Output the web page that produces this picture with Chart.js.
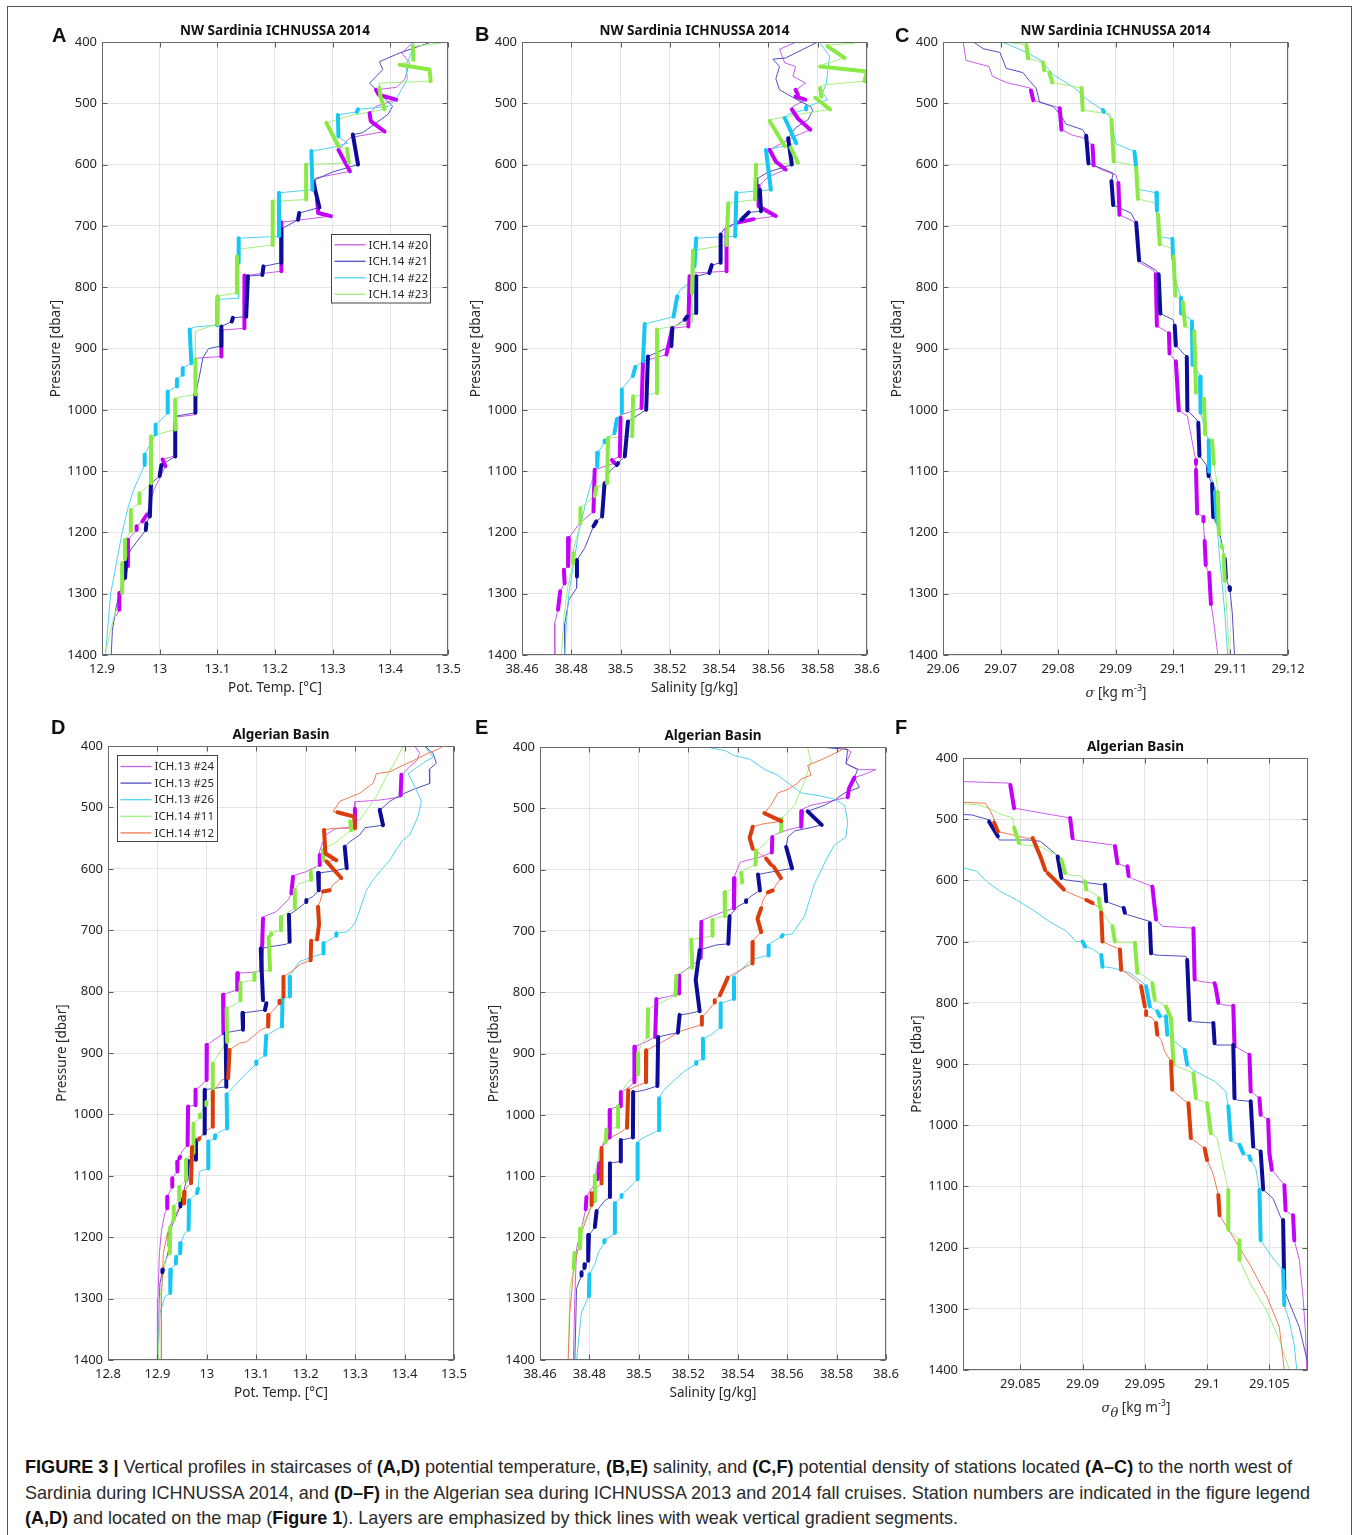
<!DOCTYPE html>
<html><head><meta charset="utf-8">
<script src="https://cdn.jsdelivr.net/npm/chart.js@4.4.1/dist/chart.umd.min.js"></script>
<style>
body{margin:0;width:1360px;height:1535px;background:#fff;position:relative;overflow:hidden;font-family:"Noto Sans",sans-serif;}
.frame{position:absolute;left:7px;top:6px;width:1345px;height:1560px;border:1.5px solid #555;box-sizing:border-box;}
.letter{position:absolute;font:bold 20px "Liberation Sans",Arial,sans-serif;line-height:20px;color:#111;}
.xl{position:absolute;font-size:13.5px;line-height:16px;color:#262626;white-space:nowrap;transform:translateX(-50%);}
.xl i{font-family:"DejaVu Serif",serif;font-style:italic;font-size:13px;}
.xl sup{font-size:9px;vertical-align:6px;line-height:0;}
.xl sub{font-size:9.5px;vertical-align:-5px;line-height:0;}
.cap{position:absolute;left:25px;font-family:"Liberation Sans",Arial,sans-serif;font-size:19px;line-height:19px;color:#2a2a2a;white-space:nowrap;transform-origin:0 0;}
.cap b{color:#111;}
</style></head><body>
<div class="frame"></div>
<script>
// ---------- tick labels ----------
const pressureTicks = [400,500,600,700,800,900,1000,1100,1200,1300,1400];
const tempTicksA = [12.9,13,13.1,13.2,13.3,13.4,13.5];
const tempTicksD = [12.8,12.9,13,13.1,13.2,13.3,13.4,13.5];
const salTicks = [38.46,38.48,38.5,38.52,38.54,38.56,38.58,38.6];
const sigTicksC = [29.06,29.07,29.08,29.09,29.1,29.11,29.12];
const sigTicksF = [29.085,29.09,29.095,29.1,29.105];

const namesA = ['ICH.14 #20','ICH.14 #21','ICH.14 #22','ICH.14 #23'];
const namesD = ['ICH.13 #24','ICH.13 #25','ICH.13 #26','ICH.14 #11','ICH.14 #12'];

// ---------- data: [value, pressure, layer flag(1 = thick segment ending here)] ----------
// Panel A: potential temperature, NW Sardinia
const tempA_20 = [[13.44,400],[13.42,418],[13.433,434],[13.425,461],[13.41,474],[13.375,478],[13.38,486,1],[13.41,494,1],[13.375,505],[13.364,516],[13.366,529,1],[13.39,546,1],[13.33,556],[13.31,576],[13.33,611,1],[13.27,622],[13.273,657],[13.275,679,1],[13.297,684,1],[13.211,694],[13.211,774,1],[13.147,781],[13.147,867,1],[13.107,870],[13.107,913,1],[13.062,916],[13.062,1008],[13.027,1012],[13.027,1075],[13.005,1081],[13.01,1092,1],[12.99,1130],[12.978,1171],[12.97,1182,1],[12.96,1190],[12.96,1196,1],[12.945,1212],[12.945,1255,1],[12.935,1290],[12.93,1299],[12.93,1326,1],[12.925,1336]];
const tempA_21 = [[13.471,400],[13.416,418],[13.381,432],[13.387,445],[13.364,467],[13.381,483],[13.404,505],[13.396,518],[13.352,548],[13.335,551],[13.344,600,1],[13.30,612],[13.271,624],[13.266,627],[13.277,670,1],[13.242,679],[13.24,690,1],[13.211,705],[13.211,760,1],[13.18,766],[13.178,780,1],[13.153,782],[13.15,848,1],[13.127,850],[13.125,856,1],[13.107,864],[13.107,896,1],[13.085,900],[13.075,915],[13.068,950],[13.062,975],[13.062,1005,1],[13.03,1010],[13.027,1021],[13.027,1076,1],[13.003,1090],[13.0,1108,1],[12.985,1120],[12.983,1174,1],[12.977,1185],[12.976,1196,1],[12.95,1228],[12.942,1244],[12.94,1274,1],[12.932,1293],[12.925,1320],[12.918,1360],[12.916,1400]];
const tempA_22 = [[13.442,400],[13.436,418],[13.427,440],[13.43,460],[13.419,478],[13.41,494],[13.396,505],[13.344,510],[13.342,514,1],[13.309,519],[13.31,554,1],[13.326,565],[13.30,572],[13.263,578],[13.265,641,1],[13.207,646],[13.207,717,1],[13.137,720],[13.137,760,1],[13.137,818],[13.1,820],[13.1,862,1],[13.06,865],[13.052,869],[13.055,924,1],[13.04,932],[13.04,943,1],[13.03,950],[13.03,962,1],[13.014,970],[13.014,1005,1],[13.006,1013],[12.993,1024],[12.993,1040,1],[12.974,1073],[12.974,1090,1],[12.955,1130],[12.945,1160],[12.935,1200],[12.925,1250],[12.915,1300],[12.906,1400]];
const tempA_23 = [[13.497,400],[13.47,404],[13.439,407],[13.44,429,1],[13.416,437],[13.468,445,1],[13.47,464,1],[13.381,467],[13.381,475],[13.383,489,1],[13.39,510,1],[13.33,520],[13.289,532],[13.31,570,1],[13.325,574],[13.328,597,1],[13.254,600],[13.254,657,1],[13.196,660],[13.196,731,1],[13.137,738],[13.134,750],[13.134,809,1],[13.101,815],[13.1,860,1],[13.062,872],[13.062,918],[13.062,975,1],[13.03,980],[13.027,983],[13.027,1032,1],[12.985,1043],[12.985,1120,1],[12.965,1136],[12.965,1152,1],[12.95,1163],[12.95,1198,1],[12.94,1212],[12.94,1244,1],[12.935,1250],[12.935,1299,1],[12.92,1340],[12.905,1400]];

// Panel B: salinity, NW Sardinia
const salB_20 = [[38.5713,400],[38.5645,412],[38.5666,434],[38.571,440],[38.57,456],[38.575,467],[38.572,476],[38.571,478],[38.572,486,1],[38.571,489],[38.575,494,1],[38.57,505],[38.5695,510],[38.572,525,1],[38.577,543,1],[38.57,555],[38.5605,576],[38.563,595,1],[38.567,608,1],[38.56,620],[38.556,635],[38.556,668,1],[38.563,684,1],[38.554,689],[38.547,695,1],[38.543,705],[38.543,774,1],[38.529,777],[38.528,782],[38.5275,864,1],[38.521,867],[38.5186,910,1],[38.5091,921],[38.5085,997,1],[38.5003,1008],[38.5,1013],[38.4997,1076,1],[38.4965,1082],[38.4976,1087,1],[38.4895,1098],[38.489,1166,1],[38.4834,1185],[38.479,1209],[38.4787,1255,1],[38.477,1261],[38.4773,1283,1],[38.4755,1296],[38.4746,1326,1],[38.4733,1348],[38.4733,1400]];
const salB_21 = [[38.58,400],[38.574,412],[38.567,426],[38.5618,428],[38.5645,440],[38.563,460],[38.5645,478],[38.572,495],[38.577,505],[38.578,512],[38.576,527],[38.571,540],[38.568,557],[38.5695,600,1],[38.56,612],[38.555,624],[38.5551,635,1],[38.5565,641],[38.557,676,1],[38.552,678],[38.549,690,1],[38.542,705],[38.5406,714],[38.5406,760,1],[38.537,764],[38.536,777,1],[38.5307,782],[38.5307,842,1],[38.527,848],[38.526,853,1],[38.521,867],[38.5206,896,1],[38.5111,913],[38.5104,1000,1],[38.503,1019],[38.5017,1076,1],[38.499,1087],[38.4985,1090,1],[38.4956,1100],[38.4935,1120],[38.4925,1174,1],[38.4902,1182],[38.489,1190,1],[38.4854,1226],[38.4823,1245],[38.4823,1272,1],[38.482,1291],[38.479,1310],[38.4773,1350],[38.4773,1400]];
const salB_22 = [[38.5806,400],[38.5848,423],[38.5835,467],[38.582,483],[38.584,494],[38.578,502],[38.5753,506],[38.5753,510,1],[38.568,518],[38.5666,524],[38.5713,565,1],[38.566,570],[38.559,576],[38.561,641,1],[38.547,646],[38.5465,717,1],[38.5307,720],[38.53,766,1],[38.529,790],[38.524,805],[38.523,815],[38.5215,848,1],[38.5138,856],[38.5098,860],[38.5091,921,1],[38.506,930],[38.505,945,1],[38.5017,960],[38.5005,967],[38.5005,1005,1],[38.4985,1015],[38.4975,1038,1],[38.4935,1050],[38.4935,1053,1],[38.4908,1070],[38.4905,1092,1],[38.4888,1110],[38.486,1150],[38.483,1200],[38.481,1250],[38.479,1300],[38.478,1350],[38.4773,1400]];
const salB_23 = [[38.595,402],[38.5835,405],[38.584,407],[38.5909,426,1],[38.5821,437],[38.581,440],[38.6,448,1],[38.599,464,1],[38.582,470],[38.581,475],[38.5815,489,1],[38.579,491],[38.585,510,1],[38.572,518],[38.5605,527],[38.5605,529],[38.5666,570,1],[38.569,572],[38.572,597,1],[38.555,600],[38.5545,657,1],[38.5437,663],[38.543,731,1],[38.5294,740],[38.529,809,1],[38.529,858],[38.518,866],[38.5148,869],[38.5148,973,1],[38.5051,978],[38.5047,1043,1],[38.4949,1046],[38.4945,1120,1],[38.4902,1126],[38.4895,1141,1],[38.4837,1160],[38.4837,1185,1],[38.481,1226],[38.4808,1234],[38.4808,1250,1],[38.4785,1290],[38.477,1340],[38.476,1400]];

// Panel C: density, NW Sardinia
const sigC_20 = [[29.0635,400],[29.064,430],[29.068,440],[29.0686,456],[29.071,466],[29.0751,475],[29.0753,479],[29.0757,495,1],[29.0768,498],[29.0797,506],[29.0803,508],[29.0806,543,1],[29.0825,552],[29.0843,556],[29.086,569],[29.0862,601,1],[29.0875,608],[29.0901,617],[29.0905,630],[29.0907,682,1],[29.093,692],[29.0938,700],[29.0942,760],[29.0965,772],[29.097,779],[29.0972,863,1],[29.0988,872],[29.0993,875],[29.0994,908,1],[29.1005,921],[29.101,1001,1],[29.1025,1010],[29.1038,1075],[29.104,1082],[29.104,1088,1],[29.104,1098],[29.1042,1169,1],[29.105,1173],[29.1053,1175],[29.1053,1182,1],[29.1054,1205],[29.1055,1214],[29.1057,1253,1],[29.106,1262],[29.1063,1266],[29.1066,1317,1],[29.107,1340],[29.1078,1400]];
const sigC_21 = [[29.0653,400],[29.067,411],[29.0699,417],[29.071,443],[29.0739,450],[29.075,463],[29.0762,475],[29.0768,498],[29.0791,505],[29.0803,517],[29.0814,534],[29.0843,543],[29.0849,553],[29.0853,598,1],[29.0875,606],[29.0896,614],[29.0893,627],[29.0896,666,1],[29.0927,679],[29.0936,695],[29.0941,756,1],[29.097,772],[29.0975,779],[29.0978,843,1],[29.1,853],[29.1003,863],[29.1005,895,1],[29.1024,914],[29.1025,1001,1],[29.104,1015],[29.1044,1021],[29.1046,1075,1],[29.1058,1090],[29.1061,1095],[29.1062,1108,1],[29.1068,1121],[29.107,1175,1],[29.108,1195],[29.109,1243],[29.1092,1275,1],[29.1098,1290],[29.1099,1294,1],[29.1103,1330],[29.1107,1400]];
const sigC_22 = [[29.0702,400],[29.0716,405],[29.0745,417],[29.0771,430],[29.0791,453],[29.0829,475],[29.0852,495],[29.0878,511],[29.088,514,1],[29.089,521],[29.0893,532],[29.0901,566],[29.0933,579],[29.0936,605,1],[29.0938,640],[29.0971,646],[29.0972,675,1],[29.0973,717],[29.0999,721],[29.1,753,1],[29.1005,790],[29.1012,812],[29.1014,817],[29.1014,843,1],[29.103,852],[29.1033,856],[29.1034,927,1],[29.1045,940],[29.1047,946],[29.1048,1005,1],[29.1058,1040],[29.1062,1050],[29.1063,1101,1],[29.1072,1126],[29.1073,1134],[29.1076,1180,1],[29.108,1230],[29.109,1330],[29.1095,1400]];
const sigC_23 = [[29.0705,400],[29.0742,404],[29.0745,405],[29.0748,427,1],[29.0774,433],[29.0776,446,1],[29.0785,450],[29.079,466,1],[29.0841,475],[29.0843,511,1],[29.087,515],[29.089,517],[29.0893,527],[29.0897,595,1],[29.0933,601],[29.0936,605],[29.0939,656,1],[29.097,663],[29.0974,682],[29.0977,730,1],[29.0999,737],[29.1001,750],[29.1004,814,1],[29.1017,824],[29.1021,863,1],[29.1034,870],[29.1037,872],[29.104,972,1],[29.1052,980],[29.1054,982],[29.1056,1040,1],[29.1068,1050],[29.1071,1088,1],[29.1075,1110],[29.1078,1134],[29.108,1203,1],[29.1084,1222],[29.1086,1225,1],[29.1088,1237],[29.109,1279,1],[29.1093,1320],[29.1098,1400]];

// Panel D: potential temperature, Algerian Basin
const tempD_24 = [[13.4206,400],[13.4306,412],[13.425,423],[13.41,434],[13.397,445],[13.3936,447],[13.392,480,1],[13.393,483],[13.35,488],[13.2991,491],[13.2995,502],[13.3,531,1],[13.26,535],[13.24,545],[13.2265,575],[13.2283,578],[13.2285,594,1],[13.215,599],[13.2,605],[13.175,611],[13.1743,613],[13.171,640,1],[13.165,650],[13.14,670],[13.115,678],[13.1136,681],[13.1102,765,1],[13.1,768],[13.063,770],[13.0615,797,1],[13.04,803],[13.0327,805],[13.0335,868,1],[13.005,884],[13.0,887],[12.9995,944,1],[12.985,955],[12.977,960],[12.9771,985,1],[12.962,987],[12.961,1050,1],[12.95,1060],[12.946,1069],[12.944,1072,1],[12.94,1077],[12.9405,1093,1],[12.93,1104],[12.93,1118,1],[12.92,1134],[12.9198,1153,1],[12.915,1161],[12.908,1190],[12.904,1226],[12.901,1300],[12.9,1400]];
const tempD_25 = [[13.4408,400],[13.4576,412],[13.4643,428],[13.45,438],[13.4508,461],[13.42,470],[13.397,478],[13.37,490],[13.3564,500],[13.3497,504],[13.3564,529,1],[13.32,533],[13.309,545],[13.289,556],[13.2789,564],[13.283,599,1],[13.26,603],[13.2249,607],[13.2265,635,1],[13.2148,645],[13.2013,651],[13.2013,654,1],[13.181,667],[13.166,675],[13.1675,719,1],[13.16,723],[13.127,727],[13.109,730],[13.1136,814,1],[13.1204,819],[13.1175,830,1],[13.08,834],[13.072,835],[13.0731,862,1],[13.045,866],[13.038,868],[13.0394,955,1],[13.01,958],[12.996,960],[12.9956,1031,1],[12.985,1038],[12.978,1042],[12.978,1074,1],[12.962,1076],[12.9586,1107,1],[12.952,1130],[12.947,1140],[12.9465,1150,1],[12.93,1180],[12.9248,1194],[12.9248,1215,1],[12.915,1243],[12.911,1253],[12.91,1257,1],[12.905,1275],[12.9012,1400]];
const tempD_26 = [[13.44,400],[13.4576,418],[13.4408,426],[13.407,445],[13.4172,461],[13.4306,483],[13.434,491],[13.427,515],[13.4105,545],[13.397,553],[13.383,569],[13.37,586],[13.356,599],[13.3362,618],[13.3227,635],[13.316,651],[13.3092,667],[13.3025,683],[13.295,694],[13.2823,703],[13.262,705],[13.262,709,1],[13.2485,716],[13.236,721],[13.236,738,1],[13.2148,743],[13.1878,751],[13.171,770],[13.1675,776],[13.168,808,1],[13.153,812],[13.152,857,1],[13.14,862],[13.12,872],[13.118,903,1],[13.1,914],[13.1,918,1],[13.08,933],[13.04,967],[13.041,1023,1],[13.022,1030],[13.017,1034],[13.016,1039,1],[13.003,1044],[13.003,1088,1],[12.985,1093],[12.982,1121],[12.98,1128,1],[12.964,1140],[12.963,1188,1],[12.955,1194],[12.947,1210],[12.946,1226,1],[12.938,1232],[12.937,1243,1],[12.927,1253],[12.926,1291,1],[12.915,1297],[12.905,1324],[12.901,1400]];
const tempD_11 = [[13.397,400],[13.383,423],[13.363,450],[13.343,482],[13.31,520],[13.29,523],[13.292,537,1],[13.28,545],[13.255,560],[13.235,569],[13.235,586,1],[13.22,598],[13.21,605],[13.211,618,1],[13.185,625],[13.178,634],[13.178,664,1],[13.16,673],[13.15,678],[13.15,700,1],[13.135,703],[13.13,705],[13.13,708,1],[13.125,711],[13.128,765,1],[13.1,768],[13.096,770],[13.096,781,1],[13.075,784],[13.068,786],[13.068,814,1],[13.055,822],[13.04,827],[13.041,882,1],[13.025,900],[13.012,917],[13.012,971,1],[12.999,980],[12.999,985,1],[12.986,1000],[12.986,1005,1],[12.973,1015],[12.973,1063,1],[12.963,1070],[12.958,1074],[12.958,1107,1],[12.944,1118],[12.944,1140,1],[12.933,1150],[12.933,1172,1],[12.926,1183],[12.925,1226,1],[12.915,1240],[12.905,1300],[12.902,1400]];
const tempD_12 = [[13.4778,400],[13.471,404],[13.447,412],[13.42,423],[13.39,434],[13.37,442],[13.343,445],[13.336,461],[13.309,477],[13.269,490],[13.2552,507],[13.264,508],[13.298,515,1],[13.3,534,1],[13.255,534],[13.237,537],[13.24,575,1],[13.262,586,1],[13.2418,588],[13.272,615,1],[13.2552,626],[13.2485,635],[13.235,637,1],[13.2283,655],[13.2249,662],[13.227,690,1],[13.223,715,1],[13.211,717],[13.21,749,1],[13.19,755],[13.17,768],[13.155,776],[13.155,808,1],[13.147,815],[13.147,819,1],[13.135,830],[13.125,838],[13.124,857,1],[13.11,862],[13.08,882],[13.066,884],[13.046,895],[13.043,941,1],[13.03,944],[13.02,955],[13.012,963],[13.012,1020,1],[12.995,1028],[12.985,1039],[12.983,1041,1],[12.975,1044],[12.97,1053],[12.968,1112,1],[12.96,1118],[12.955,1126],[12.954,1145,1],[12.945,1150],[12.93,1172],[12.92,1194],[12.912,1226],[12.908,1302],[12.908,1400]];

// Panel E: salinity, Algerian Basin
const salE_24 = [[38.5832,401],[38.5858,408],[38.5838,427],[38.5892,437],[38.5959,437],[38.591,445],[38.5872,450],[38.585,468,1],[38.5845,482,1],[38.578,488],[38.5697,495],[38.5663,501],[38.566,505],[38.5657,530,1],[38.5603,535],[38.5549,543],[38.554,547],[38.5538,572,1],[38.5495,579],[38.541,588],[38.5387,611],[38.5387,614],[38.5385,663,1],[38.534,669],[38.5259,682],[38.5253,685],[38.525,744,1],[38.5226,753],[38.5172,769],[38.5163,773],[38.5163,802,1],[38.512,807],[38.5071,811],[38.5066,873,1],[38.5024,882],[38.4984,889],[38.4982,947,1],[38.496,955],[38.4943,960],[38.4927,963],[38.4927,986,1],[38.4896,989],[38.4883,992],[38.4882,1037,1],[38.4856,1045],[38.484,1079],[38.4834,1105,1],[38.481,1120],[38.4788,1134],[38.4785,1154,1],[38.4765,1190],[38.4748,1218],[38.4741,1296],[38.4735,1400]];
const salE_25 = [[38.5757,401],[38.5845,404],[38.5838,427],[38.5885,437],[38.5872,450],[38.5892,466],[38.5832,475],[38.5798,485],[38.5751,495],[38.5683,505],[38.574,527,1],[38.57,531],[38.563,537],[38.5603,547],[38.5596,563],[38.562,598,1],[38.552,605],[38.5482,608],[38.549,634,1],[38.5455,643],[38.5434,650],[38.5434,653,1],[38.54,660],[38.5367,676],[38.5362,721,1],[38.5313,723],[38.5246,731],[38.523,780,1],[38.5246,831,1],[38.52,835],[38.5165,837],[38.5158,866,1],[38.511,870],[38.5078,873],[38.5075,953,1],[38.502,960],[38.4977,963],[38.4976,1037,1],[38.4943,1040],[38.4927,1041],[38.4927,1076,1],[38.4896,1078],[38.4883,1079],[38.4883,1134,1],[38.486,1141],[38.4829,1157],[38.4822,1183,1],[38.481,1190],[38.4798,1196],[38.4795,1238,1],[38.4782,1244],[38.478,1250,1],[38.4768,1257],[38.4768,1262,1],[38.4748,1283],[38.4741,1400]];
const salE_26 = [[38.5286,401],[38.535,406],[38.5387,414],[38.545,420],[38.551,437],[38.5562,446],[38.5657,475],[38.5724,479],[38.5791,485],[38.5832,495],[38.5845,521],[38.5838,547],[38.5791,560],[38.5764,579],[38.571,624],[38.567,676],[38.562,705],[38.5582,707],[38.5578,709,1],[38.5529,721],[38.5525,724],[38.5525,740,1],[38.546,746],[38.5441,753],[38.5387,773],[38.5385,776],[38.5385,811,1],[38.5354,815],[38.5331,818],[38.5331,857,1],[38.529,870],[38.5259,876],[38.526,908,1],[38.5232,914],[38.5232,917,1],[38.518,930],[38.51,960],[38.5082,973],[38.5082,1025,1],[38.503,1035],[38.5004,1041],[38.4995,1047],[38.4995,1105,1],[38.4943,1126],[38.493,1131],[38.493,1134,1],[38.4903,1144],[38.4903,1193,1],[38.4862,1205],[38.486,1208,1],[38.4836,1225],[38.4822,1244],[38.48,1260],[38.4798,1296,1],[38.4768,1322],[38.4748,1400]];
const salE_11 = [[38.5683,401],[38.5697,424],[38.567,456],[38.563,495],[38.5596,510],[38.5576,517],[38.5576,537,1],[38.5535,547],[38.5508,559],[38.5475,569],[38.5472,592,1],[38.5428,600],[38.5414,605],[38.5418,621,1],[38.5367,634],[38.5347,637],[38.5348,676,1],[38.531,679],[38.5298,682],[38.5298,708,1],[38.526,711],[38.5212,714],[38.5216,760,1],[38.518,766],[38.5165,769],[38.5152,773],[38.5148,805,1],[38.512,811],[38.5037,828],[38.5035,873,1],[38.501,885],[38.4997,899],[38.4997,934,1],[38.4975,940],[38.4943,953],[38.4916,986],[38.4916,1020,1],[38.4869,1024],[38.4866,1044,1],[38.484,1060],[38.4822,1099],[38.4822,1141,1],[38.479,1165],[38.4765,1186],[38.4762,1218,1],[38.474,1225],[38.4736,1251,1],[38.4721,1283],[38.4714,1400]];
const salE_12 = [[38.5838,401],[38.579,411],[38.5737,421],[38.5683,430],[38.5697,446],[38.5657,452],[38.5643,459],[38.5603,469],[38.5562,475],[38.5535,495],[38.5508,508],[38.5576,521,1],[38.5495,526],[38.5461,530],[38.5448,548,1],[38.5461,566,1],[38.551,580],[38.5515,582],[38.5535,592,1],[38.5545,595],[38.5575,614,1],[38.5555,625],[38.5542,634],[38.5522,637,1],[38.5502,650],[38.5495,663],[38.548,680,1],[38.5495,702,1],[38.547,712],[38.5461,718],[38.546,753,1],[38.54,766],[38.536,776],[38.5328,805,1],[38.5307,813],[38.5307,817,1],[38.527,835],[38.5255,840],[38.5255,853,1],[38.5172,863],[38.5091,882],[38.503,895],[38.5029,947,1],[38.498,955],[38.4957,960],[38.4952,1021,1],[38.4916,1031],[38.4885,1037],[38.4849,1054],[38.4849,1112,1],[38.482,1122],[38.4809,1128],[38.4809,1147,1],[38.4768,1192],[38.4735,1257],[38.4721,1322],[38.4714,1400]];

// Panel F: potential density, Algerian Basin
const sigF_24 = [[29.078,437],[29.0841,441],[29.0842,444],[29.0845,482,1],[29.0848,483],[29.089,498],[29.0892,531,1],[29.0894,534],[29.0924,542],[29.0926,544],[29.0928,572,1],[29.0934,577],[29.0936,577],[29.0937,593,1],[29.094,597],[29.0956,610],[29.0959,664,1],[29.0964,675],[29.0989,678],[29.099,762,1],[29.0994,765],[29.1006,768],[29.1007,776,1],[29.1009,800,1],[29.1012,803],[29.1021,805],[29.1022,871,1],[29.1025,874],[29.1034,885],[29.1035,945,1],[29.1037,948],[29.1042,956],[29.1043,983,1],[29.1045,986],[29.1049,991],[29.105,1046,1],[29.1052,1073,1],[29.1057,1085],[29.1062,1098],[29.1063,1139,1],[29.1066,1144],[29.1069,1147],[29.107,1188,1],[29.1074,1220],[29.1077,1280],[29.1079,1340],[29.108,1400]];
const sigF_25 = [[29.078,490],[29.0811,493],[29.0825,501],[29.0825,504],[29.0832,528,1],[29.0833,534],[29.0857,534],[29.0866,536],[29.0879,558],[29.088,561],[29.0883,596,1],[29.0886,599],[29.0916,607],[29.0918,607],[29.0919,634,1],[29.0922,637],[29.093,643],[29.0933,645],[29.0934,653,1],[29.0936,656],[29.0954,667],[29.0954,670],[29.0955,719,1],[29.0959,722],[29.0983,724],[29.0984,730],[29.0986,828,1],[29.0989,831],[29.1005,833],[29.1006,866,1],[29.1007,869],[29.1021,869],[29.1022,956,1],[29.1024,959],[29.1035,961],[29.1037,1035,1],[29.1039,1038],[29.1043,1043],[29.1045,1105,1],[29.1053,1120],[29.1059,1150],[29.1061,1155],[29.1062,1269,1],[29.1066,1290],[29.1074,1330],[29.1081,1390]];
const sigF_26 = [[29.079,572],[29.0815,585],[29.0823,602],[29.0834,618],[29.0847,632],[29.086,648],[29.0874,668],[29.0887,683],[29.0895,700],[29.09,700],[29.0902,708,1],[29.0908,712],[29.0915,722],[29.0916,741,1],[29.0924,743],[29.0938,751],[29.095,770],[29.0951,773],[29.0954,806,1],[29.0957,810],[29.096,814],[29.0962,822,1],[29.0967,822],[29.0968,852,1],[29.0972,860],[29.0978,870],[29.0982,877],[29.0984,901,1],[29.0989,910],[29.0998,920],[29.1006,928],[29.1015,945],[29.1017,969],[29.1019,1024,1],[29.1022,1028],[29.1026,1032],[29.1029,1046,1],[29.1031,1048],[29.1034,1051],[29.1035,1057,1],[29.1039,1070],[29.1042,1106],[29.1043,1188,1],[29.1052,1215],[29.1061,1237],[29.1062,1294,1],[29.1066,1320],[29.107,1360],[29.1072,1400]];
const sigF_11 = [[29.078,473],[29.0815,476],[29.0825,482],[29.0833,491],[29.0844,498],[29.0845,514],[29.0849,539,1],[29.0852,542],[29.0866,545],[29.0882,561],[29.0883,566],[29.0886,588,1],[29.0889,591],[29.0899,593],[29.0902,602],[29.0903,615,1],[29.0906,618],[29.0912,626],[29.0913,629],[29.0915,653,1],[29.0917,656],[29.092,664],[29.0924,675],[29.0926,700,1],[29.093,702],[29.0942,702],[29.0944,751,1],[29.0948,754],[29.0955,765],[29.0956,768],[29.0958,795,1],[29.0962,800],[29.0967,806],[29.0971,825,1],[29.0973,901,1],[29.0976,904],[29.0989,915],[29.0991,956,1],[29.0993,959],[29.1,964],[29.1003,1013,1],[29.1008,1020],[29.1012,1060],[29.1017,1106],[29.1017,1171,1],[29.1022,1180],[29.1026,1188],[29.1026,1220,1],[29.1035,1260],[29.1047,1300],[29.1058,1350],[29.1066,1400]];
const sigF_12 = [[29.078,470],[29.0822,474],[29.0826,487],[29.0829,500],[29.0829,506],[29.0832,520,1],[29.0838,523],[29.0849,528],[29.0855,531],[29.086,531],[29.0866,560,1],[29.087,583,1],[29.0871,586],[29.0872,588],[29.0878,600,1],[29.0885,615,1],[29.0887,618],[29.0897,627],[29.0903,632],[29.0908,637,1],[29.091,640],[29.0914,645],[29.0915,653],[29.0916,700,1],[29.0921,705],[29.0927,710],[29.093,713],[29.0931,746,1],[29.0935,751],[29.0944,765],[29.0947,773],[29.095,806,1],[29.0951,814],[29.0951,820,1],[29.0956,825],[29.0959,833],[29.096,852,1],[29.0963,860],[29.0966,880],[29.0971,896],[29.0972,942,1],[29.0975,948],[29.0982,960],[29.0985,964],[29.0987,1021,1],[29.0993,1030],[29.0998,1038],[29.1,1057,1],[29.1005,1080],[29.1009,1114],[29.101,1147,1],[29.102,1180],[29.1035,1230],[29.1048,1280],[29.1058,1330],[29.1062,1400]];

// ---------- styling ----------
const COL = {
  m: ['#c95ceb', '#c400fa'],
  b: ['#4f4fc2', '#0c0c98'],
  c: ['#52d2ef', '#16c6f5'],
  g: ['#a3ee7c', '#8ae945'],
  o: ['#ee7b55', '#db3c0c']
};
Chart.defaults.font.family = "'Noto Sans', sans-serif";
Chart.defaults.color = '#262626';

const boxTicks = {
  id: 'boxTicks',
  afterDraw(chart) {
    const {ctx, chartArea: a, scales: {x, y}} = chart;
    const L = Math.round(a.left) + 0.5, R = Math.round(a.right) - 0.5, T = Math.round(a.top) + 0.5, B = Math.round(a.bottom) - 0.5;
    ctx.save();
    ctx.strokeStyle = '#5a5a5a'; ctx.lineWidth = 1;
    ctx.beginPath();
    x.ticks.forEach(t => { const p = Math.round(x.getPixelForValue(t.value)) + 0.5; ctx.moveTo(p, B); ctx.lineTo(p, B - 5); ctx.moveTo(p, T); ctx.lineTo(p, T + 5); });
    y.ticks.forEach(t => { const p = Math.round(y.getPixelForValue(t.value)) + 0.5; ctx.moveTo(L, p); ctx.lineTo(L + 5, p); ctx.moveTo(R, p); ctx.lineTo(R - 5, p); });
    ctx.stroke();
    ctx.strokeStyle = '#6a6a6a';
    ctx.strokeRect(L, T, R - L, B - T);
    ctx.restore();
  }
};
const boxLegend = {
  id: 'boxLegend',
  afterDraw(chart, args, o) {
    if (!o || !o.w) return;
    const {ctx, chartArea: a} = chart;
    const items = chart.data.datasets.filter((d, i) => i % 2 === 0);
    const x0 = Math.round(a.left + o.dx) + 0.5, y0 = Math.round(a.top + o.dy) + 0.5;
    const h = items.length * o.row + o.extra;
    ctx.save();
    ctx.fillStyle = '#fff'; ctx.fillRect(x0, y0, o.w, h);
    ctx.strokeStyle = '#444'; ctx.lineWidth = 1; ctx.strokeRect(x0, y0, o.w, h);
    ctx.font = "11.5px 'Noto Sans', sans-serif";
    ctx.textBaseline = 'middle'; ctx.textAlign = 'left';
    items.forEach((d, i) => {
      const yy = y0 + o.first + i * o.row;
      ctx.strokeStyle = d.borderColor; ctx.lineWidth = 1.3;
      ctx.beginPath(); ctx.moveTo(x0 + 3, yy); ctx.lineTo(x0 + 34, yy); ctx.stroke();
      ctx.fillStyle = '#262626'; ctx.fillText(d.label, x0 + 37, yy + 0.5);
    });
    ctx.restore();
  }
};

function panel(o) {
  const W = o.R - o.L, H = o.B - o.T;
  const cw = W + 84, ch = H + 64;
  const cv = document.createElement('canvas');
  cv.width = cw; cv.height = ch;
  cv.style.cssText = `position:absolute;left:${o.L - 60}px;top:${o.T - 22}px;width:${cw}px;height:${ch}px`;
  document.body.appendChild(cv);
  const datasets = [];
  o.series.forEach((s, i) => {
    const pts = s.data.map(d => ({x: d[0], y: d[1], f: d[2] ? 1 : 0}));
    datasets.push({label: s.name, data: pts, borderColor: s.col[0], borderWidth: 1, showLine: true, pointRadius: 0, tension: 0, order: 100 - i});
    datasets.push({label: s.name + ' layers', data: pts, borderColor: s.col[1], borderWidth: 4, borderCapStyle: 'round', borderJoinStyle: 'round',
      showLine: true, pointRadius: 0, tension: 0, order: 50 - i,
      segment: {borderColor: c => pts[c.p1DataIndex].f ? s.col[1] : 'rgba(0,0,0,0)'}});
  });
  const tickFont = {size: 13};
  new Chart(cv, {
    type: 'scatter',
    data: {datasets},
    plugins: [boxTicks, boxLegend],
    options: {
      responsive: false, animation: false, events: [],
      layout: {padding: {top: 0, right: 24, bottom: 0, left: 0}, autoPadding: false},
      plugins: {
        legend: {display: false}, tooltip: {enabled: false},
        title: {display: true, text: o.title, fullSize: false, color: '#111',
          font: {size: 13.5, weight: 'bold', lineHeight: 1.2}, padding: {top: 2.8, bottom: 3}},
        boxLegend: o.legend || {}
      },
      scales: {
        x: {type: 'linear', min: o.xmin, max: o.xmax,
          afterBuildTicks: s => { s.ticks = o.xticks.map(v => ({value: v})); },
          afterFit: s => { s.height = 42; },
          grid: {color: '#e4e4e4', drawTicks: false}, border: {display: false},
          ticks: {padding: 6, font: tickFont, color: '#262626', maxRotation: 0, autoSkip: false, callback: v => String(v)},
          title: o.xtitle ? {display: true, text: o.xtitle, color: '#262626', font: {size: 13.5, lineHeight: 1.2}, padding: {top: 0, bottom: 0.9}} : {display: false}
        },
        y: {type: 'linear', reverse: true, min: 400, max: 1400,
          afterBuildTicks: s => { s.ticks = pressureTicks.map(v => ({value: v})); },
          afterFit: s => { s.width = 60; },
          grid: {color: '#e4e4e4', drawTicks: false}, border: {display: false},
          ticks: {padding: 5, font: tickFont, color: '#262626', autoSkip: false, callback: v => String(v)},
          title: {display: true, text: 'Pressure [dbar]', color: '#262626', font: {size: 13.5, lineHeight: 1.2}, padding: {top: 6.4, bottom: 0}}
        }
      }
    }
  });
}

const sA = [tempA_20, tempA_21, tempA_22, tempA_23];
const sB = [salB_20, salB_21, salB_22, salB_23];
const sC = [sigC_20, sigC_21, sigC_22, sigC_23];
const sD = [tempD_24, tempD_25, tempD_26, tempD_11, tempD_12];
const sE = [salE_24, salE_25, salE_26, salE_11, salE_12];
const sF = [sigF_24, sigF_25, sigF_26, sigF_11, sigF_12];
const colA = [COL.m, COL.b, COL.c, COL.g];
const colD = [COL.m, COL.b, COL.c, COL.g, COL.o];
const mk = (arr, names, cols) => arr.map((d, i) => ({data: d, name: names[i], col: cols[i]}));

const titleA = 'NW Sardinia ICHNUSSA 2014', titleD = 'Algerian Basin';
panel({L: 102, T: 42, R: 448, B: 655, xmin: 12.9, xmax: 13.5, xticks: tempTicksA, xtitle: 'Pot. Temp. [°C]', title: titleA, series: mk(sA, namesA, colA),
  legend: {dx: 229, dy: 192, w: 99, row: 16.5, first: 10.3, extra: 2.5}});
panel({L: 522, T: 42, R: 867, B: 655, xmin: 38.46, xmax: 38.6, xticks: salTicks, xtitle: 'Salinity [g/kg]', title: titleA, series: mk(sB, namesA, colA)});
panel({L: 943, T: 42, R: 1288, B: 655, xmin: 29.06, xmax: 29.12, xticks: sigTicksC, xtitle: null, title: titleA, series: mk(sC, namesA, colA)});
panel({L: 108, T: 746, R: 454, B: 1360, xmin: 12.8, xmax: 13.5, xticks: tempTicksD, xtitle: 'Pot. Temp. [°C]', title: titleD, series: mk(sD, namesD, colD),
  legend: {dx: 9, dy: 9, w: 100, row: 16.6, first: 11, extra: 3}});
panel({L: 540, T: 747, R: 886, B: 1360, xmin: 38.46, xmax: 38.6, xticks: salTicks, xtitle: 'Salinity [g/kg]', title: titleD, series: mk(sE, namesD, colD)});
panel({L: 963, T: 758, R: 1308, B: 1370, xmin: 29.0804, xmax: 29.1081, xticks: sigTicksF, xtitle: null, title: titleD, series: mk(sF, namesD, colD)});
</script>
<div class="letter" style="left:52px;top:25px">A</div>
<div class="letter" style="left:475px;top:24px">B</div>
<div class="letter" style="left:895px;top:25px">C</div>
<div class="letter" style="left:51px;top:717px">D</div>
<div class="letter" style="left:475px;top:717px">E</div>
<div class="letter" style="left:895px;top:717px">F</div>
<div class="xl" style="left:1116px;top:684px"><i>σ</i> [kg m<sup>-3</sup>]</div>
<div class="xl" style="left:1136px;top:1399px"><i>σ</i><sub><i>θ</i></sub> [kg m<sup>-3</sup>]</div>
<div class="cap" id="c1" style="top:1457px"><b>FIGURE 3 |</b> Vertical profiles in staircases of <b>(A,D)</b> potential temperature, <b>(B,E)</b> salinity, and <b>(C,F)</b> potential density of stations located <b>(A–C)</b> to the north west of</div>
<div class="cap" id="c2" style="top:1483px">Sardinia during ICHNUSSA 2014, and <b>(D–F)</b> in the Algerian sea during ICHNUSSA 2013 and 2014 fall cruises. Station numbers are indicated in the figure legend</div>
<div class="cap" id="c3" style="top:1508px"><b>(A,D)</b> and located on the map (<b>Figure 1</b>). Layers are emphasized by thick lines with weak vertical gradient segments.</div>
<script>
[['c1', 1267], ['c2', 1285], ['c3', 933]].forEach(([id, w]) => {
  const el = document.getElementById(id);
  const nw = el.getBoundingClientRect().width;
  el.style.transform = `scaleX(${w / nw})`;
});
</script>
</body></html>
